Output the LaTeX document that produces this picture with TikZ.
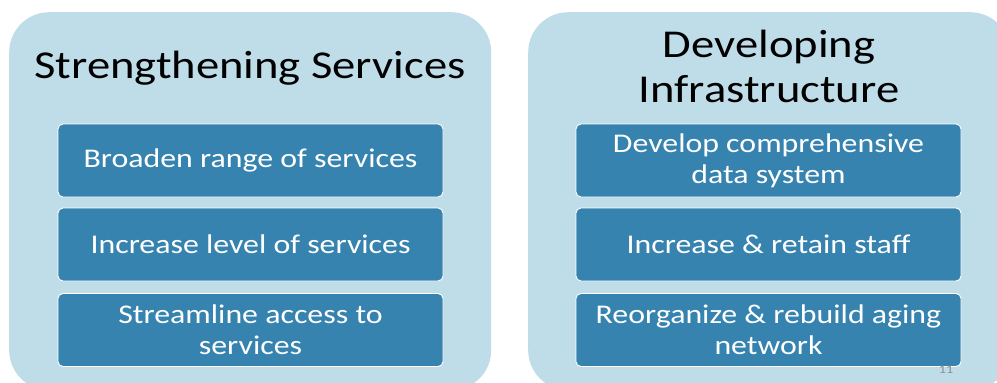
\documentclass[tikz,border=0pt]{standalone}
\usepackage{fontspec}
\setmainfont{Carlito}[FakeStretch=1.18]
\definecolor{panelblue}{RGB}{191,221,233}
\definecolor{boxblue}{RGB}{55,131,175}
\definecolor{pagenum}{RGB}{140,140,140}
\begin{document}
\begin{tikzpicture}[x=1pt,y=-1pt,
  panel/.style={fill=panelblue, draw=none, rounded corners=40pt,
    minimum width=482pt, minimum height=378pt, anchor=north west, inner sep=0pt},
  heading/.style={text=black, font=\fontsize{39.5}{45}\selectfont, align=center, inner sep=0pt},
  item/.style={draw=white, line width=0.9pt, fill=boxblue, rounded corners=5pt,
    text=white, font=\fontsize{27}{31}\selectfont, align=center,
    minimum width=385pt, minimum height=73pt, inner sep=0pt},
  pageno/.style={text=pagenum, font=\fontsize{12}{14}\selectfont, inner sep=0pt}
]
\useasboundingbox (0,0) rectangle (997,383);
\clip (0,0) rectangle (997,383);

% two background panels
\node[panel] (leftpanel) at (9,12) {};
\node[panel] (rightpanel) at (528,12) {};

% panel headings
\node[heading, anchor=base] (lefthead) at (250,78) {Strengthening Services};
\node[heading] (righthead) at (769,66) {Developing\\Infrastructure};

% left column items
\node[item] (broaden) at (250.5,160.5) {Broaden range of services};
\node[item] (increase) at (250.5,244.5) {Increase level of services};
\node[item] (stream) at (250.5,330) {Streamline access to\\services};

% right column items
\node[item] (datasys) at (768.5,160.5) {Develop comprehensive\\data system};
\node[item] (staff) at (768.5,244.5) {Increase \& retain staff};
\node[item] (network) at (768.5,330) {Reorganize \& rebuild aging\\network};

% slide number
\node[pageno] (num) at (946,370) {11};
\end{tikzpicture}
\end{document}
